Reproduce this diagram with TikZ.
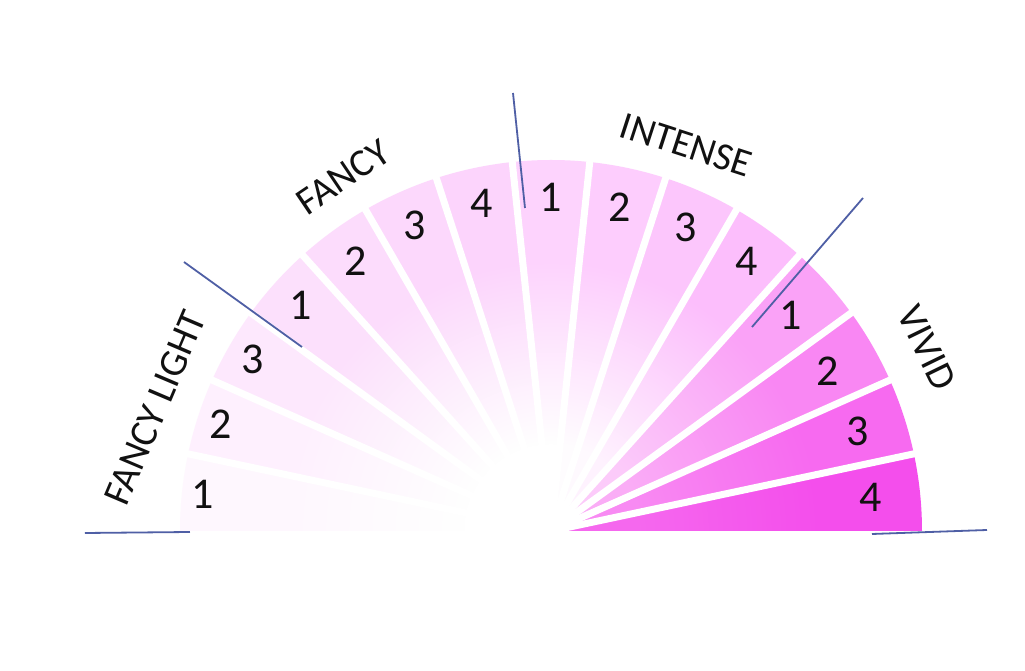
\documentclass[tikz,border=0pt]{standalone}
\usepackage{fontspec}
\setmainfont{Carlito}
\usetikzlibrary{fadings}
\pgfdeclareradialshading{fanshade}{\pgfpointorigin}{color(0bp)=(white); color(8bp)=(white); color(25bp)=(black); color(50bp)=(black)}
\pgfdeclarefading{fanfade}{\pgfuseshading{fanshade}}
\definecolor{w0}{HTML}{F44EEC}
\definecolor{w1}{HTML}{F76AF0}
\definecolor{w2}{HTML}{F987F3}
\definecolor{w3}{HTML}{FAA2F7}
\definecolor{w4}{HTML}{FCBEFC}
\definecolor{w5}{HTML}{FCC6FC}
\definecolor{w6}{HTML}{FDCDFD}
\definecolor{w7}{HTML}{FDD3FD}
\definecolor{w8}{HTML}{FCD4FC}
\definecolor{w9}{HTML}{FCD8FC}
\definecolor{w10}{HTML}{FCDCFC}
\definecolor{w11}{HTML}{FCE0FC}
\definecolor{w12}{HTML}{FDE8FD}
\definecolor{w13}{HTML}{FEF0FE}
\definecolor{w14}{HTML}{FEF7FE}
\definecolor{divline}{HTML}{4F5FA5}
\definecolor{ink}{HTML}{111111}
\tikzset{
  gap/.style={draw=white, line width=7pt},
  num/.style={font=\fontsize{44}{46}\selectfont, text=ink, inner sep=0pt},
  grp/.style={font=\fontsize{39}{41}\selectfont, text=ink, inner sep=0pt},
  divider/.style={draw=divline, line width=1.8pt}
}
\begin{document}
\begin{tikzpicture}[x=1pt,y=1pt]
\useasboundingbox[fill=white] (-551,-140) rectangle (474,531);
\def\R{371pt}
% wedges
\foreach \k/\c/\op in {0/w0/0.15,1/w1/0.22,2/w2/0.32,3/w3/0.45,4/w4/0.8,5/w5/0.9,6/w6/0.95,7/w7/1,8/w8/1,9/w9/1,10/w10/1,11/w11/1,12/w12/1,13/w13/1,14/w14/1}{
  \fill[\c] (0,0) -- ({12*\k}:\R) arc[start angle={12*\k}, end angle={12*\k+12}, radius=\R] -- cycle;
  \begin{scope}
    \clip (0,0) -- ({12*\k}:\R) arc[start angle={12*\k}, end angle={12*\k+12}, radius=\R] -- cycle;
    \fill[white, fill opacity=\op, path fading=fanfade] (0,0) circle[radius=270pt];
  \end{scope}
}
% gaps
\foreach \k in {1,...,14}{
  \draw[gap] (0,0) -- ({12*\k}:380pt);
}
% numbers
\foreach \k/\lab/\r in {0/4/321,1/3/322,2/2/319,3/1/323,4/4/333,5/3/332,6/2/331,7/1/334,8/4/335,9/3/335,10/2/333,11/1/337,12/3/344,13/2/347,14/1/350}{
  \node[num] (n\k) at ({12*\k+6}:\r pt) {\lab};
}
% group labels
\node[grp, rotate=67] (fl) at (-396,123) {FANCY LIGHT};
\node[grp, rotate=34] (fa) at (-208,354) {FANCY};
\node[grp, rotate=-18] (in) at (135,386) {INTENSE};
\node[grp, rotate=-64] (vi) at (376,183) {VIVID};
% dividers
\coordinate (a1) at (-466,-2); \coordinate (a2) at (-361,-1);
\coordinate (b1) at (-367,269); \coordinate (b2) at (-249,184);
\coordinate (c1) at (-38,438); \coordinate (c2) at (-26,323);
\coordinate (d1) at (312,333); \coordinate (d2) at (201,204);
\coordinate (e1) at (321,-3); \coordinate (e2) at (436,1);
\draw[divider] (a1) -- (a2);
\draw[divider] (b1) -- (b2);
\draw[divider] (c1) -- (c2);
\draw[divider] (d1) -- (d2);
\draw[divider] (e1) -- (e2);
\end{tikzpicture}
\end{document}
